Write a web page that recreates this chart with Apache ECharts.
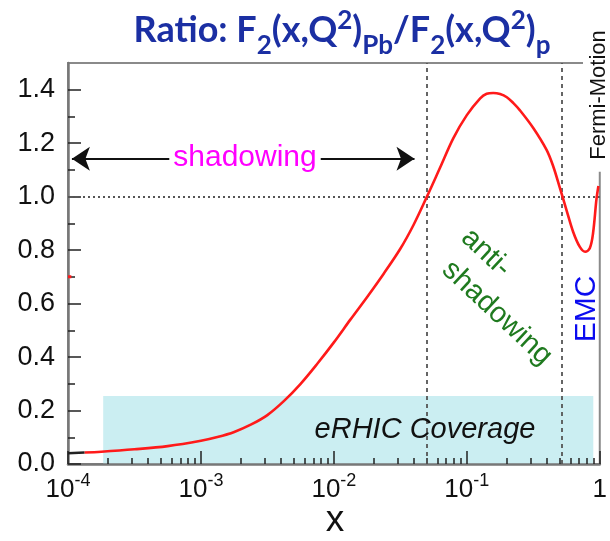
<!DOCTYPE html>
<html>
<head>
<meta charset="utf-8">
<script src="https://cdn.jsdelivr.net/npm/echarts@6/dist/echarts.min.js"></script>
<style>
  html, body { margin: 0; padding: 0; background: #fff; }
  #chart { width: 610px; height: 541px; }
</style>
</head>
<body>
<div id="chart"></div>
<script>
// Nuclear modification ratio F2(Pb)/F2(p) versus Bjorken x
const ratioX = [1.00e-4, 1.33e-4, 1.78e-4, 3.16e-4, 5.62e-4, 1.00e-3, 1.33e-3, 1.78e-3, 2.37e-3,
  3.16e-3, 4.22e-3, 5.62e-3, 7.50e-3, 1.00e-2, 1.33e-2, 1.78e-2, 2.37e-2, 3.16e-2, 3.98e-2,
  5.01e-2, 6.31e-2, 7.94e-2, 0.100, 0.126, 0.141, 0.158, 0.178, 0.200, 0.224, 0.251,
  0.316, 0.398, 0.447, 0.501, 0.562, 0.631, 0.708, 0.776, 0.841, 0.891, 0.944, 0.977];
const ratioY = [0.040, 0.043, 0.046, 0.055, 0.067, 0.087, 0.101, 0.120, 0.147,
  0.183, 0.236, 0.300, 0.375, 0.455, 0.540, 0.625, 0.712, 0.805, 0.895,
  1.000, 1.110, 1.220, 1.305, 1.368, 1.385, 1.388, 1.384, 1.372, 1.350, 1.323,
  1.257, 1.175, 1.113, 1.033, 0.950, 0.868, 0.812, 0.794, 0.807, 0.865, 0.990, 1.040];

// Axis ticks
const xDecades = [1e-4, 1e-3, 1e-2, 1e-1, 1];
const xMinorSteps = [2, 3, 4, 5, 6, 7, 8, 9];
const yTicks = [0, 0.2, 0.4, 0.6, 0.8, 1.0, 1.2, 1.4];
const yMinorTicks = [0.1, 0.3, 0.5, 0.7, 0.9, 1.1, 1.3];

// Region markers
const regionBounds = [0.05, 0.52];        // shadowing | anti-shadowing | EMC
const unityLevel = 1.0;
const coverageX = [1.84e-4, 0.894];       // eRHIC coverage in x
const coverageTop = 0.254;
const shadowArrow = { from: 1.07e-4, to: 0.0404, level: 1.142 };
const edgeMark = { x: [1.0e-4, 1.06e-4], y: 0.7 };

const xMinorTicks = [];
xDecades.slice(0, -1).forEach(d => xMinorSteps.forEach(k => xMinorTicks.push(k * d)));

const redPart = ratioX.slice(1).map((x, i) => [x, ratioY[i + 1]]);
const blackPart = ratioX.slice(0, 2).map((x, i) => [x, ratioY[i]]);

const chart = echarts.init(document.getElementById('chart'), null, { renderer: 'canvas' });

const axisLineStyle = { color: '#777', width: 2.5 };
const tickStyle = { color: '#222', width: 1.5 };
const sansFont = 'Liberation Sans, Arial, sans-serif';
const titleFont = 'Lato, Open Sans, sans-serif';

function xLabel(v) {
  const e = Math.round(Math.log10(v));
  if (e === 0) return '{b|1}';
  return '{b|10}{s|' + e + '}';
}

const option = {
  animation: false,
  backgroundColor: '#fff',
  grid: {
    left: 68, right: 7, top: 63, bottom: 77,
    show: true, borderColor: '#8a8a8a', borderWidth: 2, backgroundColor: 'transparent'
  },
  xAxis: [
    {
      type: 'log', logBase: 10, min: 1e-4, max: 1, z: 3,
      axisLine: { show: true, lineStyle: axisLineStyle },
      axisTick: { show: true, inside: true, length: 13, lineStyle: tickStyle, customValues: xDecades },
      axisLabel: {
        show: true, margin: 8, customValues: xDecades, formatter: xLabel,
        rich: {
          b: { fontSize: 26, fontFamily: sansFont, color: '#111', lineHeight: 31, verticalAlign: 'bottom' },
          s: { fontSize: 18, fontFamily: sansFont, color: '#111', lineHeight: 20, verticalAlign: 'top' }
        }
      },
      splitLine: { show: false }
    },
    {
      type: 'log', logBase: 10, min: 1e-4, max: 1, z: 3, gridIndex: 0, position: 'bottom',
      axisLine: { show: false },
      axisTick: { show: true, inside: true, length: 6, lineStyle: tickStyle, customValues: xMinorTicks },
      axisLabel: { show: false },
      splitLine: { show: false }
    }
  ],
  yAxis: [
    {
      type: 'value', min: 0, max: 1.5, z: 3,
      axisLine: { show: true, lineStyle: axisLineStyle },
      axisTick: { show: true, inside: true, length: 13, lineStyle: tickStyle, customValues: yTicks },
      axisLabel: {
        show: true, margin: 13, customValues: yTicks, fontSize: 27, fontFamily: sansFont, color: '#111',
        formatter: v => v.toFixed(1)
      },
      splitLine: { show: false }
    },
    {
      type: 'value', min: 0, max: 1.5, z: 3, position: 'left', gridIndex: 0,
      axisLine: { show: false },
      axisTick: { show: true, inside: true, length: 7, lineStyle: tickStyle, customValues: yMinorTicks },
      axisLabel: { show: false },
      splitLine: { show: false }
    }
  ],
  series: [
    {
      name: 'regions', type: 'line', data: [], z: 1, silent: true,
      markLine: {
        silent: true, symbol: 'none', label: { show: false }, animation: false,
        data: [
          { xAxis: regionBounds[0], lineStyle: { type: [4, 4], color: '#555', width: 1.8 } },
          { xAxis: regionBounds[1], lineStyle: { type: [4, 4], color: '#555', width: 1.8 } },
          { yAxis: unityLevel, lineStyle: { type: [2, 3], color: '#555', width: 1.8 } }
        ]
      }
    },
    {
      name: 'coverage', type: 'line', data: [], z: 2, silent: true,
      markArea: {
        silent: true, animation: false,
        itemStyle: { color: '#cbeef2' },
        data: [[{ coord: [coverageX[0], 0] }, { coord: [coverageX[1], coverageTop] }]]
      }
    },
    {
      name: 'arrow', type: 'line', data: [], z: 4, silent: true,
      markLine: {
        silent: true, symbol: ['arrow', 'arrow'], symbolSize: 18, label: { show: false }, animation: false,
        lineStyle: { type: 'solid', color: '#111', width: 2 },
        data: [[{ coord: [shadowArrow.from, shadowArrow.level] }, { coord: [shadowArrow.to, shadowArrow.level] }]]
      }
    },
    {
      name: 'ratio', type: 'line', data: redPart, z: 5, smooth: 0.35,
      showSymbol: false, lineStyle: { color: '#ff1a1a', width: 2.6 }
    },
    {
      name: 'ratio-start', type: 'line', data: blackPart, z: 5,
      showSymbol: false, lineStyle: { color: '#222', width: 2.6 }
    },
    {
      name: 'edge', type: 'line', data: edgeMark.x.map(x => [x, edgeMark.y]), z: 5,
      showSymbol: false, lineStyle: { color: '#ff1a1a', width: 3 }
    }
  ],
  graphic: [
    {
      type: 'text', x: 342, y: 30, z: 100,
      style: {
        text: '{m|Ratio: F}{d|2}{m|(x,Q}{u|2}{m|)}{d|Pb}{m|/F}{d|2}{m|(x,Q}{u|2}{m|)}{d|p}',
        align: 'center', verticalAlign: 'middle',
        rich: {
          m: { fontSize: 36, fontWeight: 'bold', fontFamily: titleFont, fill: '#1b2fa3', lineHeight: 62 },
          u: { fontSize: 26, fontWeight: 'bold', fontFamily: titleFont, fill: '#1b2fa3', lineHeight: 26, padding: [0, 0, 19, 0] },
          d: { fontSize: 26, fontWeight: 'bold', fontFamily: titleFont, fill: '#1b2fa3', lineHeight: 26, padding: [32, 0, 0, 0] }
        }
      }
    },
    {
      type: 'text', x: 245, y: 158, z: 100,
      style: {
        text: 'shadowing', fontSize: 30, fontFamily: sansFont, fill: '#ff00ff',
        align: 'center', verticalAlign: 'middle', backgroundColor: '#fff', padding: [0, 4]
      }
    },
    {
      type: 'text', x: 486, y: 253, z: 100, rotation: -43 * Math.PI / 180,
      style: { text: 'anti-', fontSize: 29, fontFamily: sansFont, fill: '#1f7a1f', align: 'center', verticalAlign: 'middle' }
    },
    {
      type: 'text', x: 497, y: 313, z: 100, rotation: -43 * Math.PI / 180,
      style: { text: 'shadowing', fontSize: 29, fontFamily: sansFont, fill: '#1f7a1f', align: 'center', verticalAlign: 'middle' }
    },
    {
      type: 'text', x: 587, y: 309, z: 100, rotation: Math.PI / 2,
      style: { text: 'EMC', fontSize: 30, fontFamily: sansFont, fill: '#0b0bf0', align: 'center', verticalAlign: 'middle' }
    },
    {
      type: 'text', x: 599, y: 99, z: 100, rotation: Math.PI / 2,
      style: {
        text: 'Fermi-Motion', fontSize: 22, fontFamily: sansFont, fill: '#111',
        align: 'center', verticalAlign: 'middle', backgroundColor: '#fff', padding: [8, 4, 2, 12]
      }
    },
    {
      type: 'text', x: 425, y: 430, z: 100,
      style: { text: 'eRHIC Coverage', fontSize: 29, fontStyle: 'italic', fontFamily: sansFont, fill: '#111', align: 'center', verticalAlign: 'middle' }
    },
    {
      type: 'text', x: 335, y: 521, z: 100,
      style: { text: 'x', fontSize: 37, fontFamily: sansFont, fill: '#111', align: 'center', verticalAlign: 'middle' }
    }
  ]
};

chart.setOption(option);
</script>
</body>
</html>
